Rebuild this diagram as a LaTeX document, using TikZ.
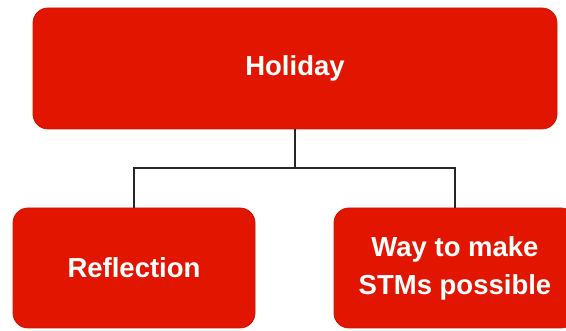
\documentclass[tikz,border=0pt]{standalone}
\usepackage{fontspec}
\setmainfont{Liberation Sans}
\usetikzlibrary{calc}
\definecolor{boxred}{RGB}{226,22,0}
\definecolor{boxedge}{RGB}{200,20,5}

\begin{document}
\begin{tikzpicture}[x=1pt, y=-1pt,
	redbox/.style={draw=boxedge, line width=0.8pt, fill=boxred, rounded corners=15pt,
		text=white, font=\fontsize{27.5}{38}\selectfont\bfseries, align=center,
		inner sep=0pt},
	link/.style={line width=1.3pt, color=black!85}]
			%%%%% START %%%%%
			
			\clip (0, 0) rectangle (566, 331);
			\useasboundingbox (0, 0) rectangle (566, 331);
			
			\node[redbox, minimum width=524pt, minimum height=121pt] (holiday) at (295, 68.5) {Holiday};
			
			\node[redbox, minimum width=242pt, minimum height=120pt] (reflection) at (134, 268) {Reflection};
			\node[redbox, minimum width=242pt, minimum height=120pt] (stms) at (455, 268) {Way to make\\STMs possible};
			
			\coordinate (split) at (295, 168);
			\draw[link] (holiday.south) -- (split);
			\draw[link] (reflection.north) |- (split) -| (stms.north);
			
			%%%%% END %%%%%
\end{tikzpicture}
\end{document}
